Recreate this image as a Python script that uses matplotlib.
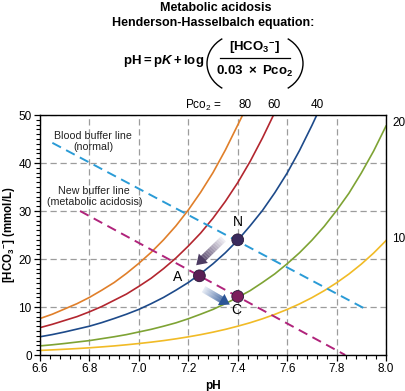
import numpy as np
import matplotlib
matplotlib.use('Agg')
import matplotlib.pyplot as plt
from matplotlib.patches import Arc, Polygon
from matplotlib.lines import Line2D
from matplotlib.collections import LineCollection
from matplotlib.ticker import MultipleLocator, FormatStrFormatter

plt.rcParams['font.family'] = ['Liberation Sans', 'DejaVu Sans']
plt.rcParams['mathtext.fontset'] = 'custom'
plt.rcParams['mathtext.rm'] = 'Liberation Sans:bold'
plt.rcParams['mathtext.it'] = 'Liberation Sans:bold:italic'
plt.rcParams['mathtext.bf'] = 'Liberation Sans:bold'
plt.rcParams['mathtext.sf'] = 'Liberation Sans'

ph = [6.6, 6.65, 6.7, 6.75, 6.8, 6.85, 6.9, 6.95, 7.0, 7.05, 7.1, 7.15, 7.2, 7.25, 7.3,
      7.35, 7.4, 7.45, 7.5, 7.55, 7.6, 7.65, 7.7, 7.75, 7.8, 7.85, 7.9, 7.95, 8.0]

# HCO3- (mmol/L) for each PCO2 isopleth; the steep ones leave through the top
pco2_80 = [7.6, 8.5, 9.6, 10.7, 12.0, 13.5, 15.1, 17.0, 19.1, 21.4, 24.0, 26.9, 30.2, 33.9,
           38.0, 42.7, 47.9]
pco2_80_end = (7.42, 50)
pco2_60 = [5.7, 6.4, 7.2, 8.0, 9.0, 10.1, 11.4, 12.7, 14.3, 16.0, 18.0, 20.2, 22.7, 25.4,
           28.5, 32.0, 35.9, 40.3, 45.2]
pco2_60_end = (7.545, 50)
pco2_40 = [3.8, 4.26, 4.8, 5.4, 6.0, 6.75, 7.6, 8.5, 9.5, 10.7, 12.0, 13.5, 15.1, 16.95,
           19.0, 21.3, 23.9, 26.9, 30.1, 33.8, 37.9, 42.6, 47.8]
pco2_40_end = (7.72, 50)
pco2_20 = [1.9, 2.13, 2.4, 2.7, 3.0, 3.4, 3.8, 4.25, 4.8, 5.35, 6.0, 6.7, 7.55, 8.5, 9.5,
           10.7, 12.0, 13.4, 15.1, 16.9, 19.0, 21.3, 23.9, 26.8, 30.1, 33.7, 37.9, 42.5, 47.7]
pco2_10 = [0.95, 1.07, 1.2, 1.34, 1.5, 1.69, 1.89, 2.13, 2.39, 2.68, 3.0, 3.37, 3.78, 4.24,
           4.76, 5.34, 6.0, 6.72, 7.54, 8.46, 9.49, 10.64, 11.94, 13.4, 15.04, 16.87, 18.93,
           21.24, 23.83]

curve_colors = ['#e07f2a', '#b3262f', '#1d4a8a', '#7ea334', '#f1bb26']

# buffer lines
normal_ph = [6.65, 7.92]
normal_hco3 = [44.2, 9.5]
acid_ph = [6.762, 7.835]
acid_hco3 = [30.0, 0]

# points N, A, C
pt_ph = [7.40, 7.245, 7.40]
pt_hco3 = [24.0, 16.5, 12.2]
pt_colors = ['#3a2a5c', '#5a1f55', '#7c1d5c']

fig = plt.figure(figsize=(4.05, 3.91), dpi=100)
ax = fig.add_axes([40/405, 1-355/391, 346/405, 240/391])
ax.set_xlim(6.6, 8.0)
ax.set_ylim(0, 50)

def fx(x):
    return x/405
def fy(y):
    return 1 - y/391

ax.plot(ph[:17] + [pco2_80_end[0]], pco2_80 + [pco2_80_end[1]], color=curve_colors[0], lw=1.2)
ax.plot(ph[:19] + [pco2_60_end[0]], pco2_60 + [pco2_60_end[1]], color=curve_colors[1], lw=1.2)
ax.plot(ph[:23] + [pco2_40_end[0]], pco2_40 + [pco2_40_end[1]], color=curve_colors[2], lw=1.2)
ax.plot(ph, pco2_20, color=curve_colors[3], lw=1.2)
ax.plot(ph, pco2_10, color=curve_colors[4], lw=1.2)

ax.plot(normal_ph, normal_hco3, color='#2a9bd6', lw=1.4, ls=(0, (5, 3)))
ax.plot(acid_ph, acid_hco3, color='#b0237b', lw=1.4, ls=(0, (5, 3)))

# gradient arrows (shaft fades from light to dark, filled head)
def grad_arrow(x0, y0, x1, y1, c_light, c_dark, head_len=10, head_w=13):
    p0 = ax.transData.transform((x0, y0))
    p1 = ax.transData.transform((x1, y1))
    d = (p1 - p0) / np.hypot(*(p1 - p0))
    perp = np.array([-d[1], d[0]])
    base = p1 - d * head_len
    n = 30
    pts = np.linspace(p0, base + d * 1.5, n + 1)
    segs = [[pts[i], pts[i + 1]] for i in range(n)]
    cl = np.array(matplotlib.colors.to_rgb(c_light))
    cd = np.array(matplotlib.colors.to_rgb(c_dark))
    cols = [tuple(cl * (1 - t) + cd * t) for t in np.linspace(0, 1, n)]
    fig.add_artist(LineCollection(segs, colors=cols, lw=5.0, capstyle='butt',
                                  transform=None, zorder=4))
    head = [p1, base + perp * head_w / 2, base - perp * head_w / 2]
    fig.add_artist(Polygon(head, closed=True, facecolor=c_dark, edgecolor='none',
                           transform=None, zorder=5))

grad_arrow(7.342, 24.2, 7.232, 18.7, '#efedf3', '#4c3b62')
grad_arrow(7.262, 13.7, 7.368, 10.5, '#e3e9f4', '#2b5597')

ax.scatter(pt_ph, pt_hco3, s=72, c=pt_colors, edgecolors='#2a1a3a', linewidths=0.6, zorder=6)
ax.text(7.40, 27.7, 'N', fontsize=10, ha='center', va='center')
ax.text(7.155, 16.3, 'A', fontsize=10, ha='center', va='center')
ax.text(7.395, 9.4, 'C', fontsize=10, ha='center', va='center')

ax.text(6.815, 44.5, 'Blood buffer line\n(normal)', fontsize=7.7, ha='center', va='center',
        color='#222222', linespacing=1.15)
ax.text(6.82, 33.0, 'New buffer line\n(metabolic acidosis)', fontsize=7.7, ha='center',
        va='center', color='#222222', linespacing=1.15)

ax.text(8.025, 48.3, '20', fontsize=8.5, ha='left', va='center', clip_on=False)
ax.text(8.025, 24.1, '10', fontsize=8.5, ha='left', va='center', clip_on=False)

ax.xaxis.set_major_locator(MultipleLocator(0.2))
ax.xaxis.set_minor_locator(MultipleLocator(0.04))
ax.xaxis.set_major_formatter(FormatStrFormatter('%.1f'))
ax.yaxis.set_major_locator(MultipleLocator(10))
ax.yaxis.set_minor_locator(MultipleLocator(1))
ax.tick_params(which='major', direction='out', length=4, width=0.9, labelsize=8.5, pad=2)
ax.tick_params(which='minor', direction='out', length=3, width=0.8)
ax.grid(True, which='major', color='#9c9c9c', ls=(0, (5, 3)), lw=0.9)
ax.set_axisbelow(True)
for s in ax.spines.values():
    s.set_linewidth(1.0)

ax.set_xlabel('pH', fontsize=8.5, fontweight='bold', labelpad=3)
ax.set_ylabel(r'[HCO$_3{}^{-}$] (mmol/L)', fontsize=8.3, fontweight='bold')
ax.yaxis.set_label_coords(-0.066, 0.5)

# title block
fig.text(fx(216), fy(8), 'Metabolic acidosis', fontsize=9, fontweight='bold', ha='center', va='center')
fig.text(fx(213), fy(23), 'Henderson-Hasselbalch equation:', fontsize=9, fontweight='bold',
         ha='center', va='center')
fig.text(fx(204), fy(61), r'$\mathrm{pH} = \mathrm{p}K + \mathrm{log}$', fontsize=9.5,
         ha='right', va='center')
fig.text(fx(255), fy(48), r'$\mathrm{[HCO_3{}^{-}]}$', fontsize=9.5, ha='center', va='center')
fig.text(fx(255), fy(71), r'$\mathrm{0.03\ \times\ Pco_2}$', fontsize=9.5, ha='center', va='center')
fig.add_artist(Line2D([fx(220), fx(290)], [fy(57.5), fy(57.5)], color='black', lw=0.9))
fig.add_artist(Arc((2.42, (391 - 63.5)/100), 0.70, 0.60, theta1=128.4, theta2=231.6,
                   transform=fig.dpi_scale_trans, color='black', lw=1.0))
fig.add_artist(Arc((2.68, (391 - 63.5)/100), 0.70, 0.60, theta1=-51.6, theta2=51.6,
                   transform=fig.dpi_scale_trans, color='black', lw=1.0))

# PCO2 labels above the curves
fig.text(fx(203), fy(105), r'$\mathsf{Pco_2}$ =', fontsize=8.5, ha='center', va='center')
for lab, xp in zip(['80', '60', '40'], [245, 274, 317]):
    fig.text(fx(xp), fy(105), lab, fontsize=8.5, ha='center', va='center')

plt.savefig('out.png', dpi=100)
